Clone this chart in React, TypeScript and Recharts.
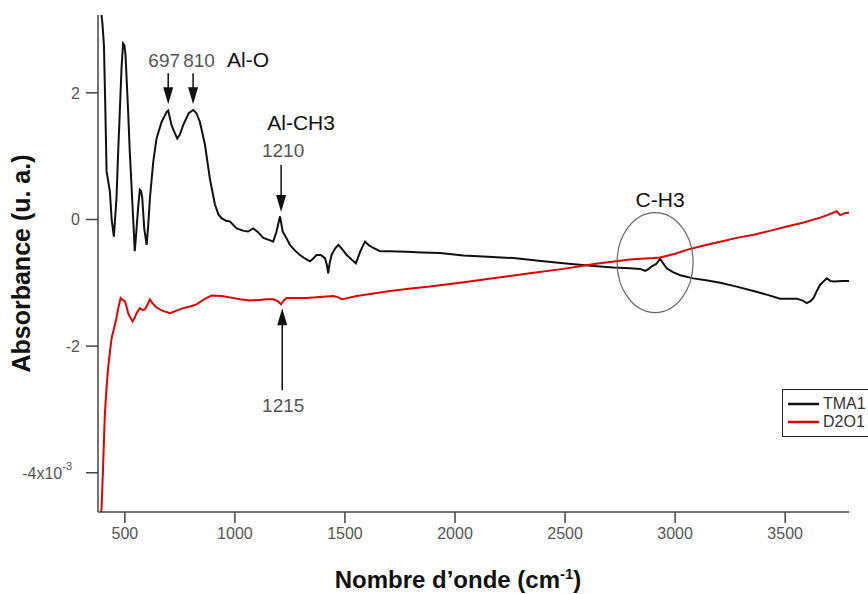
import React from "react";
import { Label, Line, LineChart, ReferenceDot, XAxis, YAxis } from "recharts";

// TMA1 spectrum (black)
const tmaWave = [
  385, 398, 405, 411, 417, 432, 440, 450, 462, 470, 477, 485, 492, 498, 503, 515, 522, 530, 538, 545,
  552, 560, 568, 574, 579, 588, 599, 606, 614, 629, 644, 667, 690, 697, 712, 725, 738, 750, 765, 790,
  810, 825, 841, 864, 886, 909, 925, 939, 960, 977, 1008, 1040, 1060, 1083, 1105, 1129, 1160, 1174, 1189, 1205,
  1217, 1235, 1250, 1270, 1295, 1320, 1341, 1355, 1371, 1390, 1409, 1418, 1424, 1430, 1439, 1455, 1470, 1490, 1508, 1530,
  1550, 1570, 1591, 1610, 1629, 1659, 1700, 1780, 1850, 1932, 2038, 2150, 2265, 2380, 2492, 2580, 2644, 2720, 2795, 2841,
  2864, 2880, 2894, 2915, 2932, 2945, 2962, 2990, 3023, 3083, 3140, 3205, 3280, 3356, 3420, 3477, 3553, 3580, 3598, 3615,
  3629, 3645, 3659, 3689, 3705, 3720, 3760, 3795,
];
const tmaAbs = [
  3.5, 3.1, 2.75, 1.8, 0.76, 0.44, 0.0, -0.27, 0.34, 1.1, 1.7, 2.4, 2.78, 2.75, 2.6, 1.7, 1.1, 0.55, 0.0, -0.5,
  -0.2, 0.18, 0.47, 0.45, 0.34, -0.14, -0.4, -0.1, 0.34, 0.91, 1.28, 1.54, 1.7, 1.72, 1.49, 1.38, 1.28, 1.34, 1.49, 1.68,
  1.73, 1.68, 1.54, 1.18, 0.65, 0.24, 0.08, 0.02, -0.02, -0.03, -0.14, -0.18, -0.19, -0.14, -0.2, -0.29, -0.33, -0.35, -0.19, 0.05,
  -0.19, -0.3, -0.4, -0.48, -0.56, -0.62, -0.66, -0.62, -0.56, -0.56, -0.61, -0.72, -0.85, -0.7, -0.56, -0.46, -0.4, -0.48, -0.56, -0.63,
  -0.69, -0.5, -0.35, -0.41, -0.45, -0.5, -0.5, -0.51, -0.52, -0.53, -0.57, -0.59, -0.61, -0.65, -0.69, -0.72, -0.74, -0.76, -0.77, -0.78,
  -0.81, -0.78, -0.74, -0.7, -0.62, -0.69, -0.77, -0.83, -0.88, -0.93, -0.96, -1.0, -1.06, -1.13, -1.19, -1.25, -1.25, -1.28, -1.32, -1.29,
  -1.24, -1.12, -1.03, -0.93, -0.97, -0.98, -0.97, -0.97,
];

// D2O1 spectrum (red)
const d2oWave = [
  388, 394, 398, 401, 405, 409, 416, 424, 432, 440, 455, 462, 470, 481, 490, 500, 508, 515, 525, 535,
  545, 553, 568, 580, 591, 605, 614, 625, 644, 670, 705, 735, 765, 800, 826, 860, 894, 940, 977, 1023,
  1068, 1110, 1144, 1174, 1195, 1210, 1222, 1235, 1280, 1326, 1400, 1447, 1470, 1485, 1500, 1553, 1630, 1705, 1800, 1886,
  1932, 2040, 2190, 2340, 2492, 2640, 2795, 2900, 2932, 3000, 3053, 3130, 3205, 3280, 3356, 3430, 3507, 3580, 3659, 3700,
  3734, 3742, 3750, 3770, 3795,
];
const d2oAbs = [
  -4.7, -4.57, -4.2, -3.92, -3.5, -3.08, -2.7, -2.34, -2.1, -1.87, -1.66, -1.55, -1.4, -1.24, -1.27, -1.29, -1.38, -1.48, -1.55, -1.61,
  -1.55, -1.48, -1.4, -1.43, -1.42, -1.33, -1.26, -1.32, -1.39, -1.44, -1.48, -1.44, -1.4, -1.37, -1.34, -1.26, -1.2, -1.21, -1.23, -1.26,
  -1.28, -1.27, -1.26, -1.26, -1.29, -1.34, -1.28, -1.24, -1.24, -1.24, -1.22, -1.21, -1.23, -1.26, -1.25, -1.21, -1.17, -1.13, -1.09, -1.06,
  -1.04, -0.99, -0.92, -0.85, -0.78, -0.7, -0.63, -0.61, -0.6, -0.54, -0.48, -0.41, -0.35, -0.29, -0.24, -0.18, -0.11, -0.05, 0.03, 0.08,
  0.13, 0.1, 0.07, 0.1, 0.11,
];

const xTicks = [500, 1000, 1500, 2000, 2500, 3000, 3500];
const yTicks = [-4, -2, 0, 2];

// annotated bands: wavenumber, absorbance at the arrow tip
const peakLabels = ["697", "810", "1210", "1215"];
const peakWave = [697, 810, 1210, 1215];
const peakAbs = [1.82, 1.82, 0.12, -1.4];
const groupLabels = ["Al-O", "Al-CH3", "C-H3"];
const circleCenter = { x: 2909, y: -0.68 };

const seriesNames = ["TMA1", "D2O1"];
const seriesColors = ["#111", "#e00000"];

const tmaData = tmaWave.map((x, i) => ({ x, y: tmaAbs[i] }));
const d2oData = d2oWave.map((x, i) => ({ x, y: d2oAbs[i] }));

const FONT = "'Liberation Sans', Arial, sans-serif";

function downArrow(cx: number, cy: number, len: number) {
  return (
    <g>
      <line x1={cx} y1={cy - len} x2={cx} y2={cy - 14} stroke="#111" strokeWidth={1.5} />
      <polygon points={`${cx - 5},${cy - 17} ${cx + 5},${cy - 17} ${cx},${cy}`} fill="#111" />
    </g>
  );
}

function upArrow(cx: number, cy: number, len: number) {
  return (
    <g>
      <line x1={cx} y1={cy + len} x2={cx} y2={cy + 14} stroke="#111" strokeWidth={1.5} />
      <polygon points={`${cx - 5},${cy + 17} ${cx + 5},${cy + 17} ${cx},${cy}`} fill="#111" />
    </g>
  );
}

const grey = (x: number, y: number, s: string) => (
  <text x={x} y={y} textAnchor="middle" fontSize={19} fill="#555" fontFamily={FONT}>
    {s}
  </text>
);
const black = (x: number, y: number, s: string) => (
  <text x={x} y={y} textAnchor="middle" fontSize={21} fill="#111" fontFamily={FONT}>
    {s}
  </text>
);

const YTick = (props: any) => {
  const { x, y, payload } = props;
  if (payload.value === -4) {
    return (
      <text x={x - 8} y={y + 6} textAnchor="end" fontSize={16} fill="#555" fontFamily={FONT}>
        -4x10
        <tspan dy={-9} fontSize={11}>
          -3
        </tspan>
      </text>
    );
  }
  return (
    <text x={x} y={y + 6} textAnchor="end" fontSize={16} fill="#555" fontFamily={FONT}>
      {payload.value}
    </text>
  );
};

const LegendBox = () => (
  <div
    style={{
      position: "absolute",
      left: 782,
      top: 389,
      border: "1.5px solid #222",
      background: "#fff",
      width: 92,
      height: 48,
      boxSizing: "border-box",
      paddingTop: 5,
      fontFamily: FONT,
      fontSize: 16,
      color: "#333",
    }}
  >
    {seriesNames.map((name, i) => (
      <div key={name} style={{ display: "flex", alignItems: "center", height: 18, lineHeight: "18px" }}>
        <svg width={40} height={10}>
          <line x1={5} y1={5} x2={36} y2={5} stroke={seriesColors[i]} strokeWidth={2.5} />
        </svg>
        <span>{name}</span>
      </div>
    ))}
  </div>
);

export default function App() {
  return (
    <div style={{ position: "absolute", left: 0, top: 0, width: 868, height: 594, overflow: "hidden", background: "#fff" }}>
      <LineChart width={868} height={594} margin={{ top: 15, right: 19, bottom: 42, left: 0 }}>
        <XAxis
          type="number"
          dataKey="x"
          domain={[378, 3790]}
          ticks={xTicks}
          allowDataOverflow
          height={40}
          tickSize={11}
          tickMargin={5}
          stroke="#444"
          strokeWidth={1.5}
          tick={{ fontSize: 16, fill: "#555", fontFamily: FONT }}
        >
          <Label
            content={(p: any) => {
              const vb = p.viewBox;
              return (
                <text x={vb.x + 360} y={vb.y + 76} textAnchor="middle" fontSize={24} fontWeight="bold" fill="#111" fontFamily={FONT}>
                  Nombre d’onde (cm
                  <tspan dy={-9} fontSize={15}>
                    -1
                  </tspan>
                  <tspan dy={9}>)</tspan>
                </text>
              );
            }}
          />
        </XAxis>
        <YAxis
          type="number"
          dataKey="y"
          domain={[-4.62, 3.23]}
          ticks={yTicks}
          allowDataOverflow
          width={98}
          tickSize={12}
          tickMargin={6}
          stroke="#444"
          strokeWidth={1.5}
          tick={<YTick />}
        >
          <Label
            content={(p: any) => {
              const vb = p.viewBox;
              const cx = vb.x + 30;
              const cy = vb.y + vb.height / 2;
              return (
                <text
                  x={cx}
                  y={cy}
                  transform={`rotate(-90 ${cx} ${cy})`}
                  textAnchor="middle"
                  fontSize={25}
                  fontWeight="bold"
                  fill="#111"
                  fontFamily={FONT}
                >
                  Absorbance (u. a.)
                </text>
              );
            }}
          />
        </YAxis>
        <Line data={tmaData} dataKey="y" name={seriesNames[0]} stroke={seriesColors[0]} strokeWidth={2} dot={false} isAnimationActive={false} />
        <Line data={d2oData} dataKey="y" name={seriesNames[1]} stroke={seriesColors[1]} strokeWidth={2} dot={false} isAnimationActive={false} />

        <ReferenceDot
          x={peakWave[0]}
          y={peakAbs[0]}
          r={0}
          shape={(p: any) => (
            <g>
              {downArrow(p.cx, p.cy, 31)}
              {grey(p.cx - 4, p.cy - 37, peakLabels[0])}
            </g>
          )}
        />
        <ReferenceDot
          x={peakWave[1]}
          y={peakAbs[1]}
          r={0}
          shape={(p: any) => (
            <g>
              {downArrow(p.cx, p.cy, 31)}
              {grey(p.cx + 6, p.cy - 37, peakLabels[1])}
              {black(p.cx + 55, p.cy - 37, groupLabels[0])}
            </g>
          )}
        />
        <ReferenceDot
          x={peakWave[2]}
          y={peakAbs[2]}
          r={0}
          shape={(p: any) => (
            <g>
              {downArrow(p.cx, p.cy, 47)}
              {grey(p.cx + 2, p.cy - 55, peakLabels[2])}
              {black(p.cx + 20, p.cy - 82, groupLabels[1])}
            </g>
          )}
        />
        <ReferenceDot
          x={peakWave[3]}
          y={peakAbs[3]}
          r={0}
          shape={(p: any) => (
            <g>
              {upArrow(p.cx, p.cy, 82)}
              {grey(p.cx + 1, p.cy + 104, peakLabels[3])}
            </g>
          )}
        />
        <ReferenceDot
          x={circleCenter.x}
          y={circleCenter.y}
          r={0}
          shape={(p: any) => (
            <g>
              <ellipse cx={p.cx} cy={p.cy} rx={38} ry={50} fill="none" stroke="#666" strokeWidth={1.2} />
              {black(p.cx + 5, p.cy - 56, groupLabels[2])}
            </g>
          )}
        />
      </LineChart>
      <LegendBox />
    </div>
  );
}
